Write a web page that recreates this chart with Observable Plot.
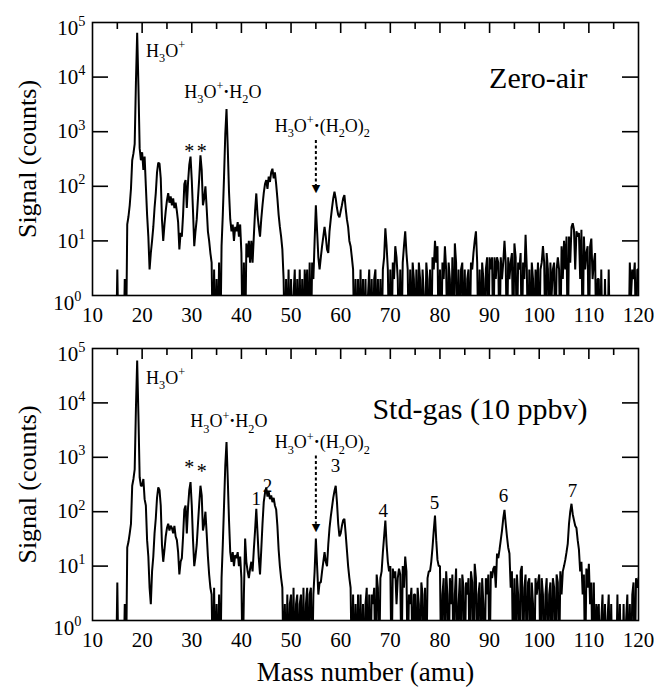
<!DOCTYPE html>
<html><head><meta charset="utf-8">
<script src="https://cdn.jsdelivr.net/npm/d3@7"></script>
<script src="https://cdn.jsdelivr.net/npm/@observablehq/plot@0.6"></script>
<style>body{margin:0;background:#fff}#chart svg{display:block}</style>
</head><body><div id="chart"></div>
<script>
// Mass grid: first mass and spacing of the recorded channels (amu)
const massStart = 10, massStep = 0.25;

// Zero-air spectrum, counts per channel (4 channels per amu, 10.00 ... 120.00)
const zeroAir = [
0,0,0,0, 0,0,0,0, 0,0,0,0, 0,0,0,0, 0,0,0,0,            // 10-14
3,0,0,0, 0,0,2,0, 20,28,45,90, 300,400,600,8000,         // 15-18
65000,7000,500,300, 420,200,350,100, 30,12,3,6,          // 19-21
10,18,40,75, 180,270,260,140, 24,10,20,35,               // 22-24
55,75,50,65, 45,60,40,50, 35,22,7,14, 12,30,110,130,     // 25-28
40,120,250,350, 130,35,8,15, 25,60,140,370,              // 29-31
200,45,60,100, 40,15,10,6, 4,0,3,0, 2,0,4,0,             // 32-35
8,30,150,900, 2600,500,80,25, 15,20,10,18, 15,22,12,20,  // 36-39
6,0,4,0, 9,5,10,4, 10,4,12,35, 74,30,18,12,              // 40-43
25,45,75,110, 130,90,150,120, 180,210,140,180, 110,60,30,18, // 44-47
12,7,2,0, 2,0,3,0, 2,0,1,3, 0,2,0,3, 0,2,0,3, 1,3,0,4,   // 48-53
0,4,2,10, 45,15,5,3, 5,8,12,18, 12,7,6,15,               // 54-57
25,40,60,80, 60,40,30,27, 35,45,60,69, 40,25,18,10,      // 58-61
8,5,3,0, 2,0,2,0, 3,0,2,0, 2,0,1,3, 0,2,0,2, 3,0,2,0,    // 62-67
2,0,3,5, 17,8,3,0, 3,0,4,2, 8,5,2,0, 3,0,4,8, 15,6,3,0,  // 68-73
3,0,4,2, 0,3,0,4, 2,0,3,1, 0,4,2,0, 3,0,5,3, 10,4,8,0,   // 74-79
3,0,4,2, 8,3,0,4, 2,0,5,0, 9,4,0,3, 0,3,4,0, 3,0,2,3,    // 80-85
0,4,3,6, 10,15,4,0, 3,0,4,2, 0,3,5,0, 5,3,5,0, 5,2,5,4,  // 86-91
0,5,2,4, 10,4,0,5, 2,4,6,0, 9,5,0,4, 3,6,0,4, 2,13,3,0,  // 92-97
3,0,4,2, 0,3,1,4, 0,3,4,8, 4,0,6,3, 0,4,1,3, 4,0,3,5,    // 98-103
3,0,8,2, 10,3,12,0, 12,4,18,21, 16,3,15,12,              // 104-107
14,2,16,0, 12,3,6,8, 0,8,11,2, 4,6,0,2,                  // 108-111
2,0,3,0, 0,2,0,0, 3,0,0,1, 0,0,1,0, 0,0,0,0, 0,0,0,0,    // 112-117
0,4,1,3, 2,4,0,3, 3                                      // 118-120
];

// Standard gas (10 ppbv) spectrum, same channels
const stdGas = [
0,0,0,0, 0,0,0,0, 0,0,0,0, 0,0,0,0, 0,0,0,0,            // 10-14
5,0,0,0, 0,0,2,0, 22,28,40,60, 300,400,600,8000,         // 15-18
60000,6000,430,300, 300,400,170,130, 30,15,4,2,          // 19-21
8,15,40,75, 180,280,250,130, 24,12,20,35,                // 22-24
50,60,45,55, 50,40,55,35, 30,18,7,12, 14,35,110,130,     // 25-28
40,120,250,350, 130,30,10,15, 25,60,140,300,             // 29-31
200,45,60,100, 40,15,7,4, 3,0,4,0, 2,0,3,0,              // 32-35
6,25,130,700, 1900,400,70,18, 12,18,10,16, 14,18,10,15,  // 36-39
6,0,3,32, 12,8,6,9, 12,8,20,45, 113,40,14,7,             // 40-43
20,60,150,220, 280,190,230,170, 200,150,180,130, 110,55,20,10, // 44-47
6,4,0,2, 0,3,0,2, 3,0,4,0, 2,3,0,2, 3,0,4,0, 2,4,0,3,    // 48-53
4,0,3,8, 32,10,3,5, 5,8,12,18, 12,10,25,50,              // 54-57
80,120,180,240, 300,150,60,35, 40,55,70,74, 40,20,10,6,  // 58-61
4,0,3,0, 2,0,3,0, 3,0,2,0, 2,4,0,3, 0,3,2,4, 0,7,4,0,    // 62-67
6,8,18,35, 69,25,12,8, 10,0,9,6, 8,2,6,9, 7,0,10,4, 15,8,0,3, // 68-73
2,4,0,3, 3,0,4,2, 0,5,3,0, 4,0,6,8, 8,12,22,45, 85,30,13,10,   // 74-79
10,0,3,6, 0,8,3,0, 6,2,7,0, 3,9,0,2, 6,0,7,4, 0,5,3,6,   // 80-85
0,8,5,0, 11,6,0,3, 5,0,6,2, 0,6,3,7, 0,8,6,9, 10,4,17,14,      // 86-91
20,30,45,75, 108,60,35,22, 17,4,8,0, 6,0,7,3, 0,8,10,0, 4,7,0,5, // 92-97
6,0,5,2, 0,6,3,5, 7,0,6,3, 0,3,6,0, 3,5,0,6, 4,0,7,5,    // 98-103
0,8,3,8, 10,13,18,26, 60,100,140,90, 70,55,50,30,        // 104-107
20,8,12,3, 7,0,9,4, 11,2,5,0, 5,0,2,1,                   // 108-111
2,0,1,3, 0,2,0,1, 3,0,2,0, 0,1,0,3, 0,2,0,0, 2,0,1,3,    // 112-117
0,2,0,3, 5,0,6,4, 6                                      // 118-120
];

// Axis ticks
const xTickLabels = [10,20,30,40,50,60,70,80,90,100,110,120];
const xTopMajor = [20,30,40,50,60,70,80,90,100,110];
const xTopMinor = [15,25,35,45,55,65,75,85,95,105,115];
const yExponents = [0,1,2,3,4,5];
const yInnerTicks = [10,100,1000,10000];

// Peak annotations
const topLabels = [
  {mass: 20.8, counts: 30300, text: "H_3O^+"},
  {mass: 28.5, counts: 5340, text: "H_3O^+·H_2O"},
  {mass: 46.7, counts: 1268, text: "H_3O^+·(H_2O)_2"}
];
const topStars = [{mass: 29.5, counts: 424}, {mass: 32.0, counts: 424}];
const bottomLabels = [
  {mass: 20.8, counts: 29000, text: "H_3O^+"},
  {mass: 29.7, counts: 4510, text: "H_3O^+·H_2O"},
  {mass: 46.7, counts: 1855, text: "H_3O^+·(H_2O)_2"}
];
const bottomStars = [{mass: 29.5, counts: 635}, {mass: 32.0, counts: 537}];
const peakNumbers = [
  {mass: 43.0, counts: 175, text: "1"},
  {mass: 45.25, counts: 303, text: "2"},
  {mass: 58.95, counts: 707, text: "3"},
  {mass: 68.6, counts: 105, text: "4"},
  {mass: 78.9, counts: 148, text: "5"},
  {mass: 92.8, counts: 199, text: "6"},
  {mass: 106.7, counts: 245, text: "7"}
];

const FONT = "'Liberation Serif','Times New Roman',Times,serif";
const W = 654, ML = 92, MR = 16;

function panel({values, height, marginTop, marginBottom, title, titleCounts, labels, stars, numbers, arrow, xTitle}) {
  const FW = W - ML - MR, FH = height - marginTop - marginBottom;
  const data = values.map((v, i) => ({mass: massStart + i * massStep, counts: v}));
  const marks = [
    Plot.line(data, {x: "mass", y: d => d.counts > 0 ? d.counts : 0.1, stroke: "black", strokeWidth: 2, strokeLinejoin: "miter", clip: true}),
    Plot.ruleX(xTopMajor, {x: d => d, insetBottom: FH - 11, stroke: "black", strokeWidth: 1.6}),
    Plot.ruleX(xTopMinor, {x: d => d, insetBottom: FH - 7, stroke: "black", strokeWidth: 1.6}),
    Plot.ruleY(yInnerTicks, {y: d => d, insetRight: FW - 16, stroke: "black", strokeWidth: 1.6}),
    Plot.ruleY(yInnerTicks, {y: d => d, insetLeft: FW - 16, stroke: "black", strokeWidth: 1.6}),
    Plot.frame({stroke: "black", strokeWidth: 1.6}),
    Plot.text(yExponents.filter(e => e > 0 && e < 5), {y: e => 10 ** e, text: e => "10^" + e, frameAnchor: "left", textAnchor: "end", lineAnchor: "middle", dx: -7, fontSize: 21}),
    Plot.text([5], {y: e => 10 ** e, text: e => "10^" + e, frameAnchor: "left", textAnchor: "end", lineAnchor: "middle", dx: -7, dy: 6, fontSize: 21}),
    Plot.text([0], {y: e => 10 ** e, text: e => "10^" + e, frameAnchor: "left", textAnchor: "end", lineAnchor: "middle", dx: -11, dy: 8, fontSize: 21}),
    Plot.text(["Signal (counts)"], {frameAnchor: "left", rotate: -90, dx: -65, fontSize: 26, textAnchor: "middle", lineAnchor: "middle"}),
    Plot.text([title], {x: 109.7, y: titleCounts, text: d => d, textAnchor: "end", lineAnchor: "middle", fontSize: 30}),
    Plot.text(labels, {x: "mass", y: "counts", text: "text", textAnchor: "start", lineAnchor: "middle", fontSize: 18}),
    Plot.text(stars, {x: "mass", y: "counts", text: () => "*", textAnchor: "middle", lineAnchor: "middle", fontSize: 20}),
    Plot.link([arrow], {x1: "mass", x2: "mass", y1: "from", y2: "to", stroke: "black", strokeWidth: 2, strokeDasharray: "3,2.5"}),
    Plot.text([arrow], {x: "mass", y: "head", text: () => "▼", textAnchor: "middle", lineAnchor: "middle", fontSize: 11, fontFamily: "DejaVu Sans"})
  ];
  if (numbers) marks.push(Plot.text(numbers, {x: "mass", y: "counts", text: "text", textAnchor: "middle", lineAnchor: "middle", fontSize: 19}));
  if (xTitle) marks.push(Plot.text([xTitle], {frameAnchor: "bottom", dy: 52, fontSize: 27, lineAnchor: "middle"}));
  return Plot.plot({
    width: W, height, marginLeft: ML, marginRight: MR, marginTop, marginBottom,
    style: {fontFamily: FONT, fontSize: "21px", color: "black", background: "white"},
    x: {domain: [10, 120], ticks: xTickLabels, tickSize: 0, tickPadding: 12, label: null},
    y: {type: "log", domain: [1, 1e5], axis: null},
    marks
  });
}

const chart = document.getElementById("chart");
chart.append(panel({
  values: zeroAir, height: 330, marginTop: 22, marginBottom: 35,
  title: "Zero-air", titleCounts: 9580, labels: topLabels, stars: topStars,
  arrow: {mass: 55, from: 707, to: 100, head: 90}
}));
chart.append(panel({
  values: stdGas, height: 358, marginTop: 18, marginBottom: 68,
  title: "Std-gas (10 ppbv)", titleCounts: 7760, labels: bottomLabels, stars: bottomStars,
  numbers: peakNumbers, arrow: {mass: 55, from: 1080, to: 60, head: 52}, xTitle: "Mass number (amu)"
}));

// Render _x as subscript and ^x as superscript (text stays real text)
function richText(el) {
  const s = el.textContent;
  if (!/[\^_·]/.test(s)) return;
  const fs = parseFloat(getComputedStyle(el).fontSize) || 18;
  const parts = [];
  let buf = "";
  for (let i = 0; i < s.length; i++) {
    const c = s[i];
    if ((c === "^" || c === "_") && i + 1 < s.length) {
      if (buf) { parts.push({t: buf, k: "n"}); buf = ""; }
      let g = s[i + 1];
      if (g === "{") { const j = s.indexOf("}", i + 2); g = s.slice(i + 2, j); i = j; } else { i++; }
      parts.push({t: g, k: c === "^" ? "sup" : "sub"});
    } else if (c === "·") {
      if (buf) { parts.push({t: buf, k: "n"}); buf = ""; }
      parts.push({t: c, k: "dot"});
    } else buf += c;
  }
  if (buf) parts.push({t: buf, k: "n"});
  el.textContent = "";
  let off = 0;
  for (const p of parts) {
    const ts = document.createElementNS("http://www.w3.org/2000/svg", "tspan");
    ts.textContent = p.t;
    let target = 0;
    if (p.k === "sup") { target = -0.42 * fs; ts.setAttribute("font-size", 0.68 * fs); }
    else if (p.k === "sub") { target = 0.28 * fs; ts.setAttribute("font-size", 0.68 * fs); }
    else if (p.k === "dot") { ts.setAttribute("font-weight", "bold"); }
    if (target - off !== 0) ts.setAttribute("dy", target - off);
    off = target;
    el.appendChild(ts);
  }
}
chart.querySelectorAll("text").forEach(richText);
</script>
</body></html>
